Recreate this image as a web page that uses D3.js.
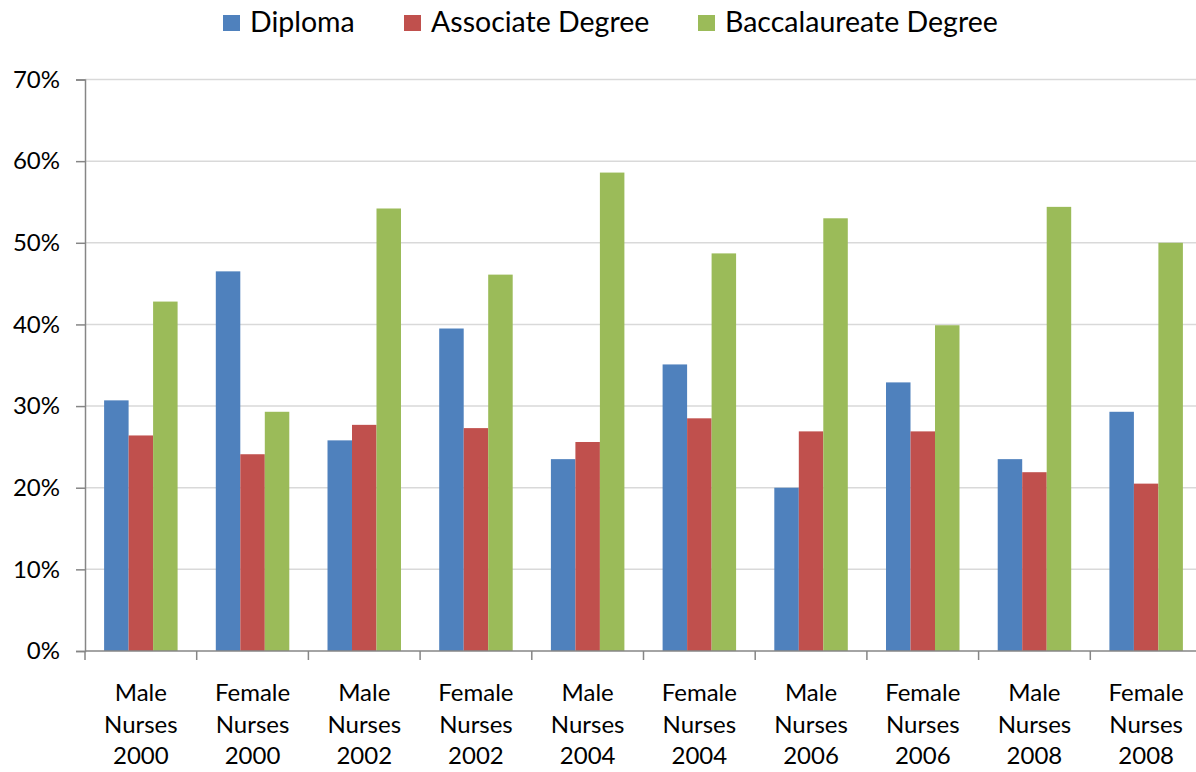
<!DOCTYPE html>
<html>
<head>
<meta charset="utf-8">
<script src="https://cdn.jsdelivr.net/npm/d3@7"></script>
<style>
  body { margin: 0; background: #fff; }
  text { font-family: Lato, "Open Sans", sans-serif; fill: #000; }
</style>
</head>
<body>
<div id="chart"></div>
<script>
// data
var categories = ['Male Nurses 2000', 'Female Nurses 2000', 'Male Nurses 2002', 'Female Nurses 2002',
  'Male Nurses 2004', 'Female Nurses 2004', 'Male Nurses 2006', 'Female Nurses 2006',
  'Male Nurses 2008', 'Female Nurses 2008'];
var seriesNames = ['Diploma', 'Associate Degree', 'Baccalaureate Degree'];
var diploma   = [30.7, 46.5, 25.8, 39.5, 23.5, 35.1, 20.0, 32.9, 23.5, 29.3];
var associate = [26.4, 24.1, 27.7, 27.3, 25.6, 28.5, 26.9, 26.9, 21.9, 20.5];
var bacc      = [42.8, 29.3, 54.2, 46.1, 58.6, 48.7, 53.0, 39.9, 54.4, 50.0];
var yTicks = [0, 10, 20, 30, 40, 50, 60, 70];
var colors = ['#4F81BD', '#C0504D', '#9BBB59'];

var values = [diploma, associate, bacc];

var width = 1196, height = 772;
var plotLeft = 85, plotTop = 79.5, plotBottom = 651;
var step = 111.7;

var svg = d3.select('#chart')
  .append('svg')
  .attr('width', width)
  .attr('height', height);

var x0 = d3.scaleBand()
  .domain(categories)
  .range([plotLeft, plotLeft + step * categories.length])
  .padding(0);

var x1 = d3.scaleBand()
  .domain(seriesNames)
  .range([0, x0.bandwidth()])
  .paddingInner(0)
  .paddingOuter(0.78);

var y = d3.scaleLinear()
  .domain([0, 70])
  .range([plotBottom, plotTop]);

// gridlines
svg.append('g')
  .selectAll('line')
  .data(yTicks.slice(1))
  .enter()
  .append('line')
  .attr('x1', plotLeft)
  .attr('x2', width)
  .attr('y1', function(d){ return y(d); })
  .attr('y2', function(d){ return y(d); })
  .attr('stroke', '#D9D9D9')
  .attr('stroke-width', 1.5);

// bars
var groups = svg.append('g')
  .selectAll('g')
  .data(categories)
  .enter()
  .append('g')
  .attr('transform', function(d){ return 'translate(' + x0(d) + ',0)'; });

groups.selectAll('rect')
  .data(function(d, i){
    return seriesNames.map(function(s, j){ return {s: s, v: values[j][i], c: colors[j]}; });
  })
  .enter()
  .append('rect')
  .attr('x', function(d){ return x1(d.s); })
  .attr('width', x1.bandwidth())
  .attr('y', function(d){ return y(d.v); })
  .attr('height', function(d){ return plotBottom - y(d.v); })
  .attr('fill', function(d){ return d.c; });

// y axis
var yAxis = svg.append('g')
  .attr('transform', 'translate(' + plotLeft + ',0)')
  .call(d3.axisLeft(y)
    .tickValues(yTicks)
    .tickSize(9)
    .tickPadding(16)
    .tickFormat(function(d){ return d + '%'; }));

yAxis.select('.domain').attr('stroke', '#868686').attr('stroke-width', 1.5);
yAxis.selectAll('.tick line').attr('stroke', '#868686').attr('stroke-width', 1.5);
yAxis.selectAll('.tick text')
  .attr('font-size', 24)
  .style('font-family', 'Lato, sans-serif')
  .attr('fill', '#1a1a1a');

// x axis line + boundary ticks
svg.append('line')
  .attr('x1', plotLeft).attr('x2', width)
  .attr('y1', plotBottom).attr('y2', plotBottom)
  .attr('stroke', '#868686').attr('stroke-width', 1.5);

svg.append('g')
  .selectAll('line')
  .data(categories)
  .enter()
  .append('line')
  .attr('x1', function(d){ return x0(d); })
  .attr('x2', function(d){ return x0(d); })
  .attr('y1', plotBottom)
  .attr('y2', plotBottom + 9)
  .attr('stroke', '#868686')
  .attr('stroke-width', 1.5);

// category labels, three lines each
var lab = svg.append('g')
  .selectAll('text')
  .data(categories)
  .enter()
  .append('text')
  .attr('text-anchor', 'middle')
  .attr('font-size', 24)
  .attr('fill', '#1a1a1a')
  .attr('x', function(d){ return x0(d) + x0.bandwidth() / 2; })
  .attr('y', 701);

lab.selectAll('tspan')
  .data(function(d){
    var w = d.split(' ');
    return w.map(function(t){ return {t: t, x: x0(d) + x0.bandwidth() / 2}; });
  })
  .enter()
  .append('tspan')
  .attr('x', function(d){ return d.x; })
  .attr('dy', function(d, i){ return i === 0 ? 0 : 31.7; })
  .text(function(d){ return d.t; });

// legend
var legendX = [223, 404, 698];
var legend = svg.append('g')
  .selectAll('g')
  .data(seriesNames)
  .enter()
  .append('g')
  .attr('transform', function(d, i){ return 'translate(' + legendX[i] + ',0)'; });

legend.append('rect')
  .attr('x', 0)
  .attr('y', 15)
  .attr('width', 17)
  .attr('height', 16)
  .attr('fill', function(d, i){ return colors[i]; });

legend.append('text')
  .attr('x', 27)
  .attr('y', 32)
  .attr('font-size', 28.5)
  .attr('fill', '#111')
  .text(function(d){ return d; });
</script>
</body>
</html>
